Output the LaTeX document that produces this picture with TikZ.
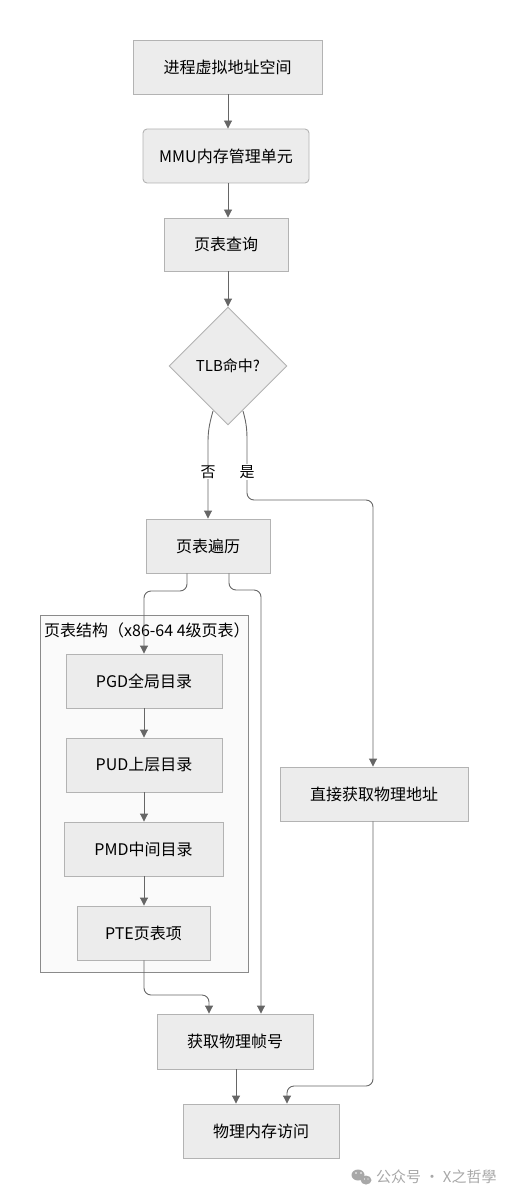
\documentclass[tikz,border=0pt]{standalone}
\usepackage{fontspec}
\setmainfont{Noto Sans CJK SC}
\usetikzlibrary{shapes.geometric,arrows.meta,calc}
\definecolor{boxfill}{HTML}{ECECEC}
\definecolor{boxline}{HTML}{B3B3B3}
\definecolor{edgecol}{HTML}{666666}
\definecolor{clusterfill}{HTML}{FAFAFA}
\definecolor{clusterline}{HTML}{8A8A8A}
\definecolor{wmark}{HTML}{A8A8A8}
\tikzset{
  box/.style={draw=boxline, fill=boxfill, line width=0.9pt, inner sep=0pt,
    font=\fontsize{16pt}{18pt}\selectfont, align=center},
  flow/.style={draw=edgecol, line width=0.9pt, rounded corners=7pt,
    -{Triangle[length=8pt,width=8pt]}},
  elabel/.style={fill=white, inner sep=1pt, font=\fontsize{15pt}{17pt}\selectfont}
}
\begin{document}
\begin{tikzpicture}[x=1pt,y=-1pt]
\useasboundingbox (0,0) rectangle (508,1198);
% cluster
\node[draw=clusterline, fill=clusterfill, line width=0.9pt, minimum width=208pt, minimum height=357pt, inner sep=0pt] (cl) at (144,793.5) {};
\node[anchor=west, font=\fontsize{16pt}{18pt}\selectfont, inner sep=0pt] (cltitle) at (44,630) {页表结构（x86-64 4级页表）};
% nodes
\node[box, minimum width=189pt, minimum height=54pt] (va) at (227.5,67) {进程虚拟地址空间};
\node[box, rounded corners=4pt, minimum width=166pt, minimum height=54pt] (mmu) at (226,156) {MMU内存管理单元};
\node[box, minimum width=124pt, minimum height=53pt] (lookup) at (226,244.5) {页表查询};
\node[box, diamond, minimum width=118pt, minimum height=118pt, aspect=1, font=\fontsize{15pt}{17pt}\selectfont] (tlb) at (228,366) {TLB命中?};
\node[box, minimum width=124pt, minimum height=54pt] (walk) at (208,546) {页表遍历};
\node[box, minimum width=156pt, minimum height=54pt] (pgd) at (144,681) {PGD全局目录};
\node[box, minimum width=156pt, minimum height=54pt] (pud) at (144,765) {PUD上层目录};
\node[box, minimum width=159pt, minimum height=54pt] (pmd) at (143.5,849) {PMD中间目录};
\node[box, minimum width=133pt, minimum height=54pt] (pte) at (143.5,933) {PTE页表项};
\node[box, minimum width=188pt, minimum height=54pt] (direct) at (374,794) {直接获取物理地址};
\node[box, minimum width=156pt, minimum height=55pt] (pfn) at (235,1041.5) {获取物理帧号};
\node[box, minimum width=156pt, minimum height=54pt] (mem) at (261,1131) {物理内存访问};
% edges
\draw[flow] (va.south -| 228,0) -- (mmu.north -| 228,0);
\draw[flow] (mmu.south -| 228,0) -- (lookup.north -| 228,0);
\draw[flow] (lookup.south -| 228,0) -- (tlb.north);
% no
\coordinate (noStart) at (213,411);
\coordinate (yesStart) at (243,411);
\draw[flow] (noStart) .. controls (209,425) and (208,432) .. (208,450) -- (walk.north -| 208,0);
\node[elabel] (nolabel) at (208,472) {否};
% yes
\draw[flow] (yesStart) .. controls (247,425) and (247,432) .. (247,450) -- (247,500) -- (373,500) -- (direct.north -| 373,0);
\node[elabel] (yeslabel) at (247,472) {是};
% walk -> pgd / pfn
\draw[flow] (walk.south -| 187,0) -- (187,591) -- (144,591) -- (pgd.north -| 144,0);
\draw[flow] (walk.south -| 229,0) -- (229,590) -- (261,590) -- (pfn.north -| 261,0);
% chain
\draw[flow] (pgd) -- (pud);
\draw[flow] (pud) -- (pmd.north -| 144,0);
\draw[flow] (pmd.south -| 144,0) -- (pte.north -| 144,0);
\draw[flow] (pte.south -| 144,0) -- (144,995) -- (209,995) -- (pfn.north -| 209,0);
\draw[flow] (pfn.south -| 236,0) -- (mem.north -| 236,0);
\draw[flow] (direct.south -| 373,0) -- (373,1086) -- (287,1086) -- (mem.north -| 287,0);
% watermark
\fill[wmark] (358,1175) ellipse (6.5pt and 5.5pt);
\fill[wmark] (366,1180) ellipse (5.5pt and 4.5pt);
\fill[white] (356,1173) circle (0.9pt) (361,1173) circle (0.9pt) (364.5,1179) circle (0.7pt) (368,1179) circle (0.7pt);
\node[anchor=west, text=wmark, font=\fontsize{15pt}{17pt}\selectfont, inner sep=0pt] (wm) at (376,1177) {公众号 · X之哲學};
\end{tikzpicture}
\end{document}
